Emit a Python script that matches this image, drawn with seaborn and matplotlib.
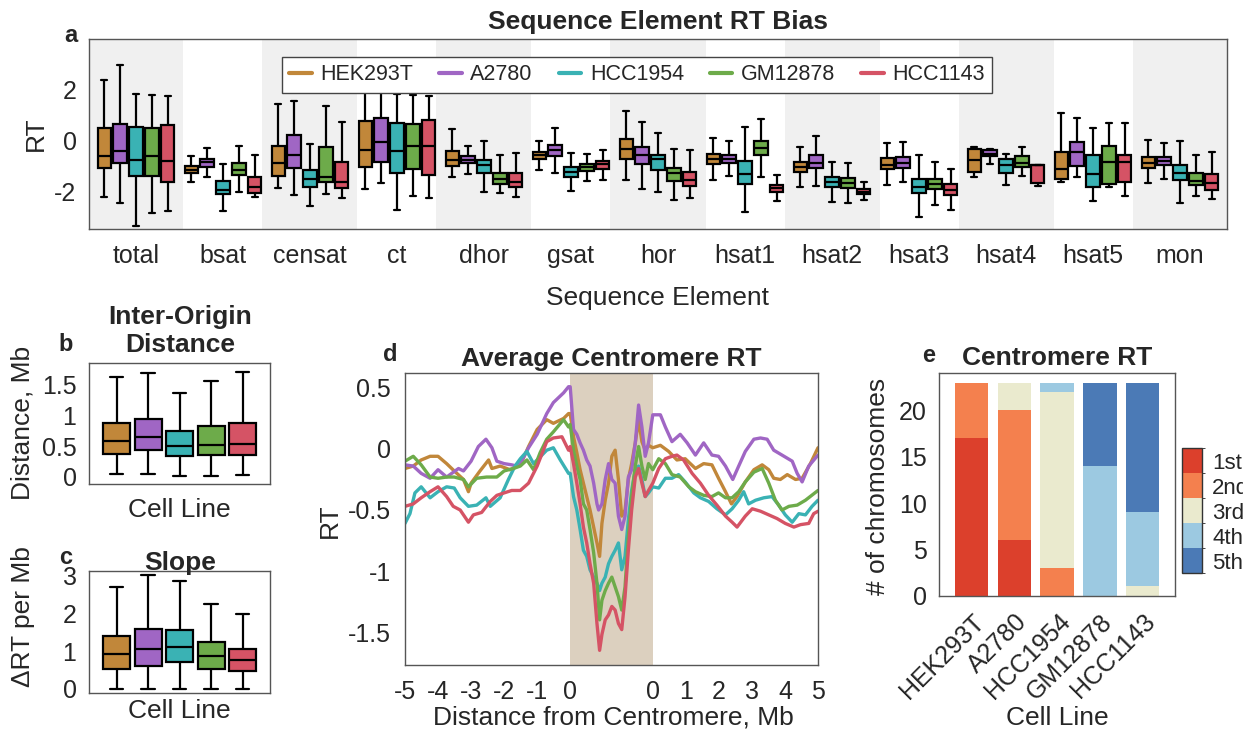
import numpy as np
import pandas as pd
import matplotlib
matplotlib.use("Agg")
import matplotlib.pyplot as plt
import matplotlib.cm as cm
import matplotlib.transforms as mtrans
from matplotlib.colors import ListedColormap, BoundaryNorm
from matplotlib.lines import Line2D
import seaborn as sns

# ---------------- data ----------------
cells = ["HEK293T", "A2780", "HCC1954", "GM12878", "HCC1143"]
cell_colors = ["#C1873A", "#A066C4", "#3AB2B4", "#6DAB4A", "#D55365"]
elements = ["total", "bsat", "censat", "ct", "dhor", "gsat", "hor",
            "hsat1", "hsat2", "hsat3", "hsat4", "hsat5", "mon"]

# panel a: five-number summaries (whisker low, q1, median, q3, whisker high) per element
a_hek = [[-2.20, -1.06, -0.59, 0.49, 2.39], [-1.63, -1.26, -1.14, -0.98, -0.59],
         [-1.87, -1.37, -0.89, -0.22, 1.46], [-1.90, -1.04, -0.37, 0.78, 1.91],
         [-1.44, -0.98, -0.77, -0.39, 0.45], [-1.14, -0.73, -0.57, -0.43, 0.00],
         [-1.54, -0.72, -0.34, 0.06, 1.17], [-1.54, -0.90, -0.70, -0.51, 0.12],
         [-1.81, -1.23, -1.02, -0.85, -0.26], [-1.75, -1.12, -0.95, -0.69, -0.07],
         [-1.43, -1.24, -0.76, -0.34, -0.23], [-1.62, -1.50, -1.12, -0.44, 1.09],
         [-1.67, -1.06, -0.86, -0.65, 0.03]]
a_a2780 = [[-2.46, -0.89, -0.39, 0.66, 2.97], [-1.41, -1.02, -0.85, -0.70, -0.27],
           [-2.13, -1.06, -0.56, 0.23, 1.57], [-1.66, -0.82, -0.06, 0.89, 2.04],
           [-1.32, -0.89, -0.74, -0.60, -0.19], [-1.26, -0.60, -0.37, -0.15, 0.50],
           [-1.89, -0.90, -0.57, -0.23, 0.73], [-1.40, -0.89, -0.72, -0.56, -0.02],
           [-1.77, -1.06, -0.86, -0.55, 0.18], [-1.63, -1.06, -0.87, -0.64, -0.06],
           [-0.93, -0.60, -0.51, -0.37, -0.32], [-1.44, -0.99, -0.43, -0.05, 0.90],
           [-1.50, -0.96, -0.80, -0.63, -0.10]]
a_hcc1954 = [[-3.35, -1.39, -0.77, 0.53, 1.85], [-2.75, -2.08, -1.94, -1.58, -0.90],
             [-2.55, -1.83, -1.52, -1.16, -0.13], [-2.71, -1.26, -0.41, 0.70, 1.85],
             [-2.00, -1.28, -0.94, -0.77, 0.00], [-1.98, -1.43, -1.22, -1.03, -0.48],
             [-2.02, -1.15, -0.73, -0.56, 0.32], [-2.79, -1.71, -1.32, -0.81, 0.53],
             [-2.40, -1.82, -1.61, -1.41, -0.83], [-2.99, -2.07, -1.81, -1.49, -0.56],
             [-1.74, -1.28, -0.96, -0.73, -0.52], [-2.38, -1.82, -1.31, -0.56, 0.49],
             [-2.45, -1.56, -1.26, -0.94, -0.02]]
a_gm12878 = [[-2.83, -1.39, -0.59, 0.50, 1.81], [-2.03, -1.35, -1.14, -0.87, -0.20],
             [-2.08, -1.62, -1.44, -0.23, 1.36], [-2.16, -1.12, -0.20, 0.67, 1.81],
             [-2.04, -1.69, -1.52, -1.26, -0.56], [-1.60, -1.19, -1.04, -0.91, -0.51],
             [-2.34, -1.58, -1.28, -1.07, -0.32], [-1.41, -0.56, -0.30, -0.01, 0.85],
             [-2.44, -1.87, -1.65, -1.45, -0.87], [-2.52, -1.89, -1.71, -1.50, -0.83],
             [-1.40, -1.03, -0.89, -0.60, -0.24], [-1.83, -1.69, -0.83, -0.19, 0.71],
             [-2.19, -1.75, -1.58, -1.26, -0.55]]
a_hcc1143 = [[-2.78, -1.61, -0.80, 0.61, 1.74], [-2.20, -2.04, -1.81, -1.43, -0.57],
             [-2.24, -1.87, -1.63, -0.82, 0.73], [-2.24, -1.36, -0.19, 0.82, 1.74],
             [-2.20, -1.83, -1.61, -1.27, -0.48], [-1.54, -1.10, -0.91, -0.78, -0.36],
             [-2.26, -1.77, -1.56, -1.22, -0.37], [-2.38, -2.03, -1.87, -1.73, -1.36],
             [-2.34, -2.11, -2.02, -1.90, -1.63], [-2.71, -2.12, -1.93, -1.70, -1.12],
             [-1.77, -1.65, -0.97, -0.95, -0.94], [-2.17, -1.61, -0.83, -0.56, 0.70],
             [-2.28, -1.94, -1.67, -1.32, -0.45]]

# panel b: inter-origin distance (Mb), five-number summaries per cell line
b_stats = [[0.05, 0.37, 0.58, 0.88, 1.62], [0.04, 0.43, 0.65, 0.94, 1.68],
           [0.02, 0.34, 0.50, 0.74, 1.36], [0.01, 0.35, 0.52, 0.83, 1.56],
           [0.03, 0.35, 0.54, 0.88, 1.70]]
# panel c: slope (delta RT per Mb)
c_stats = [[0.00, 0.52, 0.92, 1.41, 2.71], [0.00, 0.61, 1.06, 1.58, 3.02],
           [0.00, 0.71, 1.11, 1.56, 2.86], [0.00, 0.54, 0.87, 1.24, 2.25],
           [0.00, 0.48, 0.78, 1.06, 1.98]]

# panel d: average centromere RT; position: -5..0 left arm (Mb), 0..2.5 centromere, 2.5..7.5 right arm
d_hek_x = [-5.00, -4.75, -4.51, -4.24, -4.00, -3.74, -3.51, -3.23, -3.08, -3.00, -2.73, -2.47, -2.37,
           -2.12, -1.82, -1.51, -1.26, -1.00, -0.71, -0.51, -0.20, -0.05,
           0.00, 0.10, 0.20, 0.30, 0.40, 0.50, 0.60, 0.71, 0.81, 0.89, 0.96, 1.06, 1.16, 1.26, 1.36,
           1.46, 1.56, 1.66, 1.76, 1.86, 1.97, 2.07, 2.17, 2.27, 2.37,
           2.50, 2.73, 2.98, 3.23, 3.48, 3.79, 4.04, 4.29, 4.49, 4.70, 4.88, 5.05, 5.30, 5.56, 5.81,
           6.01, 6.16, 6.36, 6.57, 6.82, 7.02, 7.27, 7.50]
d_hek_y = [-0.16, -0.14, -0.09, -0.06, -0.06, -0.12, -0.18, -0.25, -0.35, -0.28, -0.18, -0.09, -0.16,
           -0.14, -0.17, -0.13, 0.02, 0.16, 0.24, 0.21, 0.25, 0.29,
           0.29, 0.10, -0.03, -0.17, -0.28, -0.39, -0.50, -0.64, -0.77, -0.88, -0.61, -0.42, -0.28,
           -0.06, -0.01, -0.25, -0.55, -0.50, -0.25, -0.12, 0.05, 0.24, 0.06, -0.01, 0.03,
           0.01, 0.03, -0.02, -0.09, -0.08, -0.16, -0.12, -0.13, -0.24, -0.35, -0.45, -0.39, -0.27,
           -0.17, -0.13, -0.17, -0.24, -0.25, -0.21, -0.25, -0.24, -0.12, 0.01]
d_a2780_x = [-5.00, -4.75, -4.51, -4.24, -4.00, -3.74, -3.38, -3.23, -3.00, -2.78, -2.55, -2.37, -2.22,
             -2.00, -1.77, -1.62, -1.51, -1.26, -1.00, -0.71, -0.51, -0.20, -0.05,
             0.00, 0.10, 0.20, 0.30, 0.40, 0.50, 0.60, 0.71, 0.81, 0.86, 0.96, 1.06, 1.16, 1.26, 1.36,
             1.46, 1.56, 1.66, 1.76, 1.86, 1.97, 2.07, 2.17, 2.27, 2.37,
             2.50, 2.73, 2.88, 3.08, 3.33, 3.54, 3.79, 4.04, 4.29, 4.49, 4.70, 4.92, 5.10, 5.30, 5.56,
             5.76, 5.96, 6.16, 6.41, 6.72, 6.87, 7.02, 7.22, 7.50]
d_a2780_y = [-0.13, -0.14, -0.20, -0.24, -0.17, -0.23, -0.16, -0.18, -0.10, 0.02, 0.08, 0.01, -0.10,
             -0.12, -0.13, -0.14, -0.12, 0.01, 0.12, 0.29, 0.38, 0.46, 0.51,
             0.51, 0.16, 0.12, 0.05, -0.01, -0.09, -0.14, -0.28, -0.45, -0.50, -0.45, -0.25, -0.12,
             -0.25, -0.28, -0.55, -0.66, -0.55, -0.23, -0.17, 0.05, 0.36, 0.18, -0.06, 0.05,
             0.28, 0.28, 0.18, 0.06, 0.12, 0.05, -0.05, 0.05, -0.05, -0.06, -0.14, -0.25, -0.14,
             -0.02, 0.08, 0.09, 0.08, -0.01, -0.05, -0.10, -0.20, -0.27, -0.14, -0.05]
d_hcc1954_x = [-5.00, -4.85, -4.70, -4.51, -4.24, -4.00, -3.74, -3.51, -3.33, -3.08, -2.83, -2.55, -2.42,
               -2.12, -1.87, -1.67, -1.51, -1.31, -1.11, -1.00, -0.71, -0.51, -0.30, -0.05,
               0.00, 0.10, 0.20, 0.30, 0.40, 0.50, 0.60, 0.71, 0.81, 0.89, 0.96, 1.06, 1.16, 1.26, 1.36,
               1.46, 1.56, 1.66, 1.76, 1.86, 1.97, 2.07, 2.17, 2.27, 2.37,
               2.50, 2.68, 2.88, 3.08, 3.28, 3.48, 3.74, 3.94, 4.19, 4.44, 4.70, 4.90, 5.10, 5.25, 5.40,
               5.61, 5.86, 6.11, 6.31, 6.51, 6.72, 6.92, 7.12, 7.32, 7.50]
d_hcc1954_y = [-0.61, -0.53, -0.36, -0.31, -0.40, -0.35, -0.31, -0.32, -0.40, -0.47, -0.46, -0.40, -0.47,
               -0.40, -0.25, -0.14, -0.08, -0.02, -0.12, -0.09, -0.01, 0.01, -0.09, -0.20,
               -0.20, -0.39, -0.50, -0.66, -0.83, -0.88, -0.99, -1.05, -1.10, -1.16, -1.10, -1.05, -0.94,
               -0.88, -0.83, -0.77, -0.99, -0.88, -0.58, -0.34, -0.17, -0.14, -0.25, -0.39, -0.36,
               -0.31, -0.32, -0.24, -0.24, -0.21, -0.27, -0.36, -0.40, -0.43, -0.49, -0.54, -0.49, -0.42,
               -0.35, -0.45, -0.42, -0.40, -0.39, -0.46, -0.54, -0.60, -0.53, -0.54, -0.47, -0.42]
d_gm12878_x = [-5.00, -4.75, -4.51, -4.24, -4.00, -3.74, -3.51, -3.23, -3.08, -2.83, -2.53, -2.22, -2.00,
               -1.72, -1.51, -1.31, -1.11, -0.91, -0.71, -0.51, -0.20, -0.05,
               0.00, 0.10, 0.20, 0.30, 0.40, 0.50, 0.60, 0.71, 0.81, 0.89, 0.96, 1.06, 1.16, 1.26, 1.36,
               1.46, 1.56, 1.66, 1.76, 1.86, 1.97, 2.07, 2.17, 2.27, 2.37,
               2.50, 2.68, 2.88, 3.08, 3.33, 3.59, 3.79, 4.04, 4.29, 4.49, 4.70, 4.90, 5.10, 5.30, 5.56,
               5.81, 6.01, 6.21, 6.41, 6.62, 6.87, 7.12, 7.50]
d_gm12878_y = [-0.10, -0.06, -0.13, -0.23, -0.24, -0.23, -0.23, -0.25, -0.31, -0.24, -0.23, -0.23, -0.18,
               -0.16, -0.14, -0.09, -0.17, -0.03, 0.08, 0.14, 0.24, 0.18,
               0.20, -0.01, -0.14, -0.25, -0.45, -0.50, -0.66, -0.85, -1.10, -1.40, -1.24, -1.16, -1.10,
               -1.05, -1.13, -1.21, -1.32, -1.13, -0.72, -0.39, -0.14, 0.02, -0.14, -0.25, -0.12,
               -0.17, -0.08, -0.12, -0.21, -0.23, -0.31, -0.35, -0.38, -0.39, -0.36, -0.40, -0.40, -0.35,
               -0.27, -0.19, -0.16, -0.28, -0.42, -0.50, -0.47, -0.46, -0.42, -0.34]
d_hcc1143_x = [-5.00, -4.75, -4.51, -4.24, -4.00, -3.74, -3.54, -3.33, -3.08, -2.93, -2.68, -2.42, -2.22,
               -2.00, -1.77, -1.51, -1.26, -1.00, -0.71, -0.51, -0.25, -0.05,
               0.00, 0.10, 0.20, 0.30, 0.40, 0.50, 0.60, 0.71, 0.81, 0.89, 0.96, 1.06, 1.16, 1.26, 1.36,
               1.46, 1.56, 1.66, 1.76, 1.86, 1.97, 2.07, 2.17, 2.27, 2.37,
               2.50, 2.68, 2.88, 3.08, 3.23, 3.43, 3.69, 3.94, 4.19, 4.44, 4.70, 4.90, 5.05, 5.30, 5.51,
               5.76, 6.01, 6.26, 6.51, 6.77, 6.97, 7.22, 7.37, 7.50]
d_hcc1143_y = [-0.47, -0.45, -0.40, -0.35, -0.31, -0.39, -0.47, -0.50, -0.60, -0.54, -0.52, -0.43, -0.38,
               -0.36, -0.34, -0.34, -0.28, -0.14, 0.06, 0.09, 0.10, -0.01,
               0.02, -0.12, -0.28, -0.45, -0.64, -0.77, -0.94, -1.10, -1.43, -1.65, -1.52, -1.40, -1.36,
               -1.29, -1.32, -1.43, -1.48, -1.21, -0.83, -0.50, -0.23, -0.16, -0.28, -0.39, -0.34,
               -0.28, -0.16, -0.08, -0.06, -0.05, -0.09, -0.20, -0.28, -0.38, -0.46, -0.55, -0.60, -0.64,
               -0.55, -0.49, -0.51, -0.54, -0.57, -0.61, -0.64, -0.62, -0.61, -0.53, -0.51]
d_tick_pos = [-5, -4, -3, -2, -1, 0, 2.5, 3.5, 4.5, 5.5, 6.5, 7.5]
d_tick_labels = ["-5", "-4", "-3", "-2", "-1", "0", "0", "1", "2", "3", "4", "5"]

# panel e: number of chromosomes per RT rank
rank_labels = ["1st", "2nd", "3rd", "4th", "5th"]
rank_colors = ["#DC402C", "#F4804E", "#EAEACE", "#9CC9E1", "#4B7AB6"]
e_1st = [17, 6, 0, 0, 0]
e_2nd = [6, 14, 3, 0, 0]
e_3rd = [0, 3, 19, 0, 1]
e_4th = [0, 0, 1, 14, 8]
e_5th = [0, 0, 0, 9, 14]

# ---------------- style ----------------
W, H = 1243, 731
sns.set_style("white")
plt.rcParams["font.family"] = ["Liberation Sans", "DejaVu Sans"]
plt.rcParams["axes.unicode_minus"] = False
TK, LB, TT, LT = 18, 19, 19, 15.5
TXT = "#262626"
SP = "#555555"
palette = dict(zip(cells, cell_colors))

fig = plt.figure(figsize=(W / 100, H / 100), dpi=100)


def rect(x0, y0, x1, y1):
    return [x0 / W, 1 - y1 / H, (x1 - x0) / W, (y1 - y0) / H]


def axc(R, px, py):
    x0, y0, x1, y1 = R
    return (px - x0) / (x1 - x0), (y1 - py) / (y1 - y0)


def style(ax, padx=8, pady=8):
    for s in ax.spines.values():
        s.set_visible(True)
        s.set_color(SP)
        s.set_linewidth(1.0)
    ax.tick_params(axis="both", length=0, labelsize=TK, labelcolor=TXT)
    ax.tick_params(axis="x", pad=padx)
    ax.tick_params(axis="y", pad=pady)


def labels(ax, R, xl=None, xpos=None, yl=None, ypos=None, title=None, tpos=None):
    if xl is not None:
        ax.set_xlabel(xl, fontsize=LB, color=TXT, va="center", ha="center")
        ax.xaxis.set_label_coords(*axc(R, *xpos))
    else:
        ax.set_xlabel("")
    if yl is not None:
        ax.set_ylabel(yl, fontsize=LB, color=TXT, va="center", ha="center")
        ax.yaxis.set_label_coords(*axc(R, *ypos))
    else:
        ax.set_ylabel("")
    if title is not None:
        tx, ty = axc(R, *tpos)
        ax.set_title(title, fontsize=TT, fontweight="bold", x=tx, y=ty, pad=0,
                     va="center", ha="center")


# ---------------- panel a ----------------
Ra = (89, 39, 1227, 229)
ax_a = fig.add_axes(rect(*Ra))
rows = []
for cell, stats in zip(cells, [a_hek, a_a2780, a_hcc1954, a_gm12878, a_hcc1143]):
    for el, five in zip(elements, stats):
        for v in five:
            rows.append({"element": el, "cell": cell, "RT": v})
df_a = pd.DataFrame(rows)
for k in range(0, len(elements), 2):
    ax_a.axvspan(k - 0.546, k + 0.546, color="#F0F0F0", lw=0, zorder=0)
sns.boxplot(data=df_a, x="element", y="RT", hue="cell", order=elements, hue_order=cells,
            palette=palette, width=0.915, gap=0.17, whis=(0, 100), showfliers=False,
            linecolor="black", linewidth=1.6, saturation=1, legend=False, ax=ax_a)
ax_a.set_xlim(-0.54, 12.54)
ax_a.set_ylim(-3.47, 4.0)
ax_a.set_yticks([-2, 0, 2])
ax_a.set_yticklabels(["-2", "0", "2"])
style(ax_a, padx=11, pady=9)
labels(ax_a, Ra, "Sequence Element", (658, 298), "RT", (36, 134),
       "Sequence Element RT Bias", (658, 22))
handles = [Line2D([0], [0], color=c, lw=3) for c in cell_colors]
leg = ax_a.legend(handles, cells, ncol=5, loc="upper center",
                  bbox_to_anchor=(axc(Ra, 637, 46)[0], axc(Ra, 637, 46)[1]),
                  fontsize=LT, handlelength=1.05, handletextpad=0.4, columnspacing=1.2,
                  borderpad=0.35, frameon=True, fancybox=False, framealpha=1,
                  edgecolor="#444444")
leg.get_frame().set_linewidth(1.0)

# ---------------- panel b ----------------
Rb = (89, 362.7, 270, 484.3)
ax_b = fig.add_axes(rect(*Rb))
df_b = pd.DataFrame([{"cell": c, "val": v} for c, s in zip(cells, b_stats) for v in s])
sns.boxplot(data=df_b, x="cell", y="val", hue="cell", order=cells, hue_order=cells,
            palette=palette, width=0.85, whis=(0, 100), showfliers=False,
            linecolor="black", linewidth=1.6, saturation=1, legend=False, ax=ax_b)
ax_b.set_xlim(-0.88, 4.87)
ax_b.set_ylim(-0.12, 1.85)
ax_b.set_yticks([0, 0.5, 1, 1.5])
ax_b.set_yticklabels(["0", "0.5", "1", "1.5"])
ax_b.set_xticklabels([])
style(ax_b, pady=9)
labels(ax_b, Rb, "Cell Line", (179, 510), "Distance, Mb", (23, 423),
       "Inter-Origin\nDistance", (180, 331))

# ---------------- panel c ----------------
Rc = (89, 571, 270, 692.7)
ax_c = fig.add_axes(rect(*Rc))
df_c = pd.DataFrame([{"cell": c, "val": v} for c, s in zip(cells, c_stats) for v in s])
sns.boxplot(data=df_c, x="cell", y="val", hue="cell", order=cells, hue_order=cells,
            palette=palette, width=0.85, whis=(0, 100), showfliers=False,
            linecolor="black", linewidth=1.6, saturation=1, legend=False, ax=ax_c)
ax_c.set_xlim(-0.88, 4.87)
ax_c.set_ylim(-0.1, 3.13)
ax_c.set_yticks([0, 1, 2, 3])
ax_c.set_xticklabels([])
style(ax_c, pady=9)
labels(ax_c, Rc, "Cell Line", (179, 711), "\u0394RT per Mb", (23, 617), "Slope", (180, 563))

# ---------------- panel d ----------------
Rd = (405, 373.3, 818, 665)
ax_d = fig.add_axes(rect(*Rd))
d_series = [(d_hek_x, d_hek_y), (d_a2780_x, d_a2780_y), (d_hcc1954_x, d_hcc1954_y),
            (d_gm12878_x, d_gm12878_y), (d_hcc1143_x, d_hcc1143_y)]
df_d = pd.concat([pd.DataFrame({"pos": xs, "RT": ys, "cell": c})
                  for c, (xs, ys) in zip(cells, d_series)], ignore_index=True)
ax_d.axvspan(0, 2.5, color="#DCD0BF", lw=0, zorder=0)
sns.lineplot(data=df_d, x="pos", y="RT", hue="cell", hue_order=cells, palette=palette,
             estimator=None, sort=False, linewidth=2.4, legend=False, ax=ax_d)
for ln in ax_d.lines:
    ln.set_solid_joinstyle("round")
ax_d.set_xlim(-5, 7.5)
ax_d.set_ylim(-1.77, 0.62)
ax_d.set_xticks(d_tick_pos)
ax_d.set_xticklabels(d_tick_labels)
ax_d.set_yticks([-1.5, -1, -0.5, 0, 0.5])
ax_d.set_yticklabels(["-1.5", "-1", "-0.5", "0", "0.5"])
style(ax_d, padx=11, pady=10)
labels(ax_d, Rd, "Distance from Centromere, Mb", (613, 718), "RT", (330, 521),
       "Average Centromere RT", (611, 359))

# ---------------- panel e ----------------
Re = (939.3, 373.3, 1175, 595.7)
ax_e = fig.add_axes(rect(*Re))
stack = np.array([e_1st, e_2nd, e_3rd, e_4th, e_5th])
cum = np.cumsum(stack, axis=0)
for i in range(4, -1, -1):
    sns.barplot(x=cells, y=cum[i], order=cells, color=rank_colors[i], width=0.78,
                errorbar=None, saturation=1, linewidth=0, ax=ax_e)
ax_e.set_xlim(-0.76, 4.76)
ax_e.set_ylim(0, 24)
ax_e.set_yticks([0, 5, 10, 15, 20])
style(ax_e, padx=6, pady=9)
ax_e.set_xticks(range(5))
ax_e.set_xticklabels(cells, rotation=45, ha="right", va="center", rotation_mode="anchor")
off = mtrans.ScaledTranslation(9 / 100, -14 / 100, fig.dpi_scale_trans)
for lab in ax_e.get_xticklabels():
    lab.set_transform(lab.get_transform() + off)
labels(ax_e, Re, "Cell Line", (1057, 718), "# of chromosomes", (878, 486),
       "Centromere RT", (1057, 358))

cax = fig.add_axes(rect(1182.3, 448.3, 1202.3, 573.3))
cmap = ListedColormap(rank_colors[::-1])
norm = BoundaryNorm(np.arange(6), 5)
cb = fig.colorbar(cm.ScalarMappable(norm=norm, cmap=cmap), cax=cax, ticks=np.arange(5) + 0.5)
cb.set_ticklabels(rank_labels[::-1])
cb.outline.set_edgecolor("#333333")
cb.outline.set_linewidth(1.0)
cax.tick_params(labelsize=16, length=4, direction="in", color="#333333", labelcolor=TXT, pad=7)

# ---------------- panel letters ----------------
for t, (px, py) in zip("abcde", [(71, 36), (66, 345), (66, 557), (390, 354), (929, 355)]):
    fig.text(px / W, 1 - py / H, t, fontsize=17, fontweight="bold", ha="center", va="center")

fig.savefig("out.png", dpi=100)
